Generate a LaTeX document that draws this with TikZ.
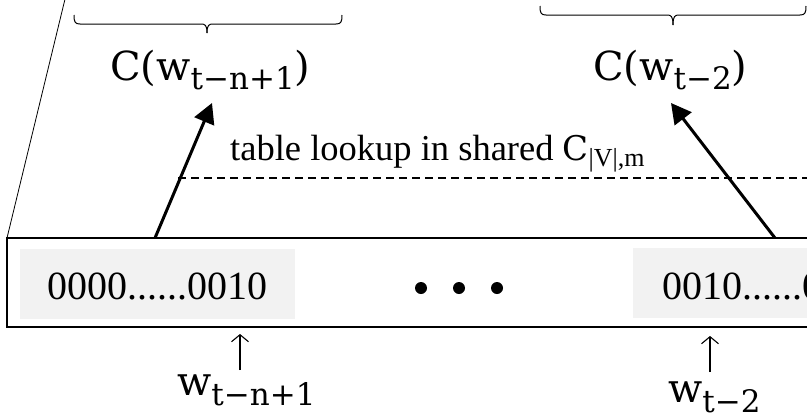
\documentclass[tikz,border=0pt]{standalone}
\usepackage{fontspec}
\setmainfont{Liberation Serif}
\newfontfamily\cambria{DejaVu Serif}
\usetikzlibrary{arrows.meta}
\definecolor{boxgray}{HTML}{F2F2F2}
\tikzset{
  lbl/.style={inner sep=0pt, anchor=base west},
  graybox/.style={fill=boxgray, draw=none},
  bigarrow/.style={line width=3pt, -{Triangle[length=20pt,width=21pt]}},
  smallarrow/.style={line width=1.1pt, -{Straight Barb[length=7pt,width=17pt]}},
  brc/.style={line width=1pt},
  dotnode/.style={circle, fill=black, inner sep=0pt, minimum size=12pt},
}
\newcommand{\clab}[1]{{\cambria\fontsize{40}{40}\selectfont C(w\raisebox{-9pt}{\fontsize{31}{31}\selectfont #1})}}
\newcommand{\wlab}[1]{{\cambria\fontsize{40}{40}\selectfont w\raisebox{-10pt}{\fontsize{31}{31}\selectfont #1}}}
\begin{document}
\begin{tikzpicture}[x=1pt,y=-1pt]
\useasboundingbox (0,0) rectangle (807,418);
% gray boxes
\fill[graybox] (20,249) rectangle (295,319);
\fill[graybox] (633,248) rectangle (908,318);
% rectangle (cut at right)
\draw[line width=2pt] (900,238) -- (7,238) -- (7,327) -- (900,327);
% slanted line
\coordinate (sl0) at (7,238);
\coordinate (sl1) at (66,-5);
\draw[line width=0.8pt] (sl0) -- (sl1);
% texts inside
\node[inner sep=0pt, anchor=base] (v1) at (157.5,299) {\fontsize{40}{40}\selectfont 0000......0010};
\node[inner sep=0pt, anchor=base west] (v2) at (662,299) {\fontsize{40}{40}\selectfont 0010......0};
\node[dotnode] (d1) at (421,288) {};
\node[dotnode] (d2) at (459,288) {};
\node[dotnode] (d3) at (497,288) {};
% top labels
\node[lbl] (c1) at (110,80) {\clab{t−n+1}};
\node[lbl] (c2) at (593,80) {\clab{t−2}};
% bottom labels
\node[lbl] (w1) at (177,395) {\wlab{t−n+1}};
\node[lbl] (w2) at (668,402) {\wlab{t−2}};
% table lookup text
\node[lbl] (tl) at (230,160) {\fontsize{36.5}{36.5}\selectfont table lookup in shared {\cambria\fontsize{34}{34}\selectfont C}\raisebox{-6pt}{\fontsize{26}{26}\selectfont |V|,m}};
% dashed line
\coordinate (ds0) at (178,178);
\coordinate (ds1) at (807,178);
\draw[line width=1.3pt, dash pattern=on 8pt off 5pt] (ds0) -- (ds1);
% big arrows
\coordinate (a1s) at (155,238);
\coordinate (a1e) at (212,103);
\coordinate (a2s) at (775,238);
\coordinate (a2e) at (671,103);
\draw[bigarrow] (a1s) -- (a1e);
\draw[bigarrow] (a2s) -- (a2e);
% small arrows
\coordinate (s1s) at (240,370);
\coordinate (s1e) at (240,334);
\coordinate (s2s) at (710,372);
\coordinate (s2e) at (710,336);
\draw[smallarrow] (s1s) -- (s1e);
\draw[smallarrow] (s2s) -- (s2e);
% braces
\coordinate (b1l) at (74,15);
\coordinate (b1r) at (342,15);
\coordinate (b1t) at (207,33);
\draw[brc] (b1l) .. controls (74,22) and (75,24) .. (80,24) -- (201,24) .. controls (205,24) and (207,25) .. (b1t);
\draw[brc] (b1r) .. controls (342,22) and (341,24) .. (336,24) -- (213,24) .. controls (209,24) and (207,25) .. (b1t);
\coordinate (b2l) at (540,6);
\coordinate (b2r) at (806,6);
\coordinate (b2t) at (673,25);
\draw[brc] (b2l) .. controls (540,13) and (541,15) .. (546,15) -- (667,15) .. controls (671,15) and (673,16) .. (b2t);
\draw[brc] (b2r) .. controls (806,13) and (805,15) .. (800,15) -- (679,15) .. controls (675,15) and (673,16) .. (b2t);
\end{tikzpicture}
\end{document}
